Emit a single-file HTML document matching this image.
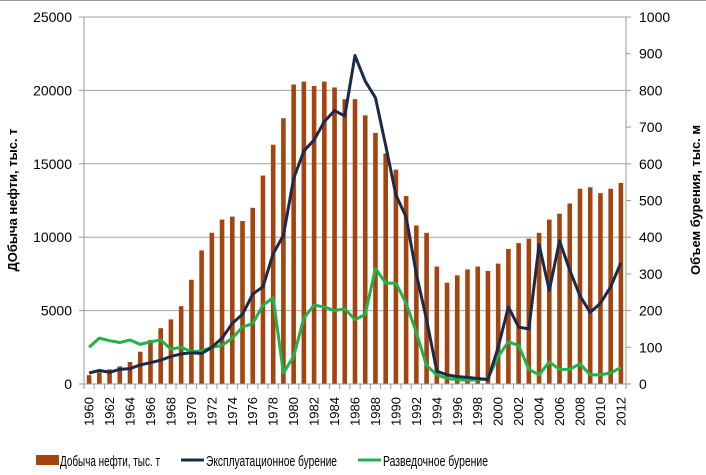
<!DOCTYPE html>
<html><head><meta charset="utf-8"><style>
html,body{margin:0;padding:0;background:#fff;}
svg{display:block;font-family:"Liberation Sans",sans-serif;}
</style></head><body>
<svg id="chart" width="706" height="475" viewBox="0 0 706 475">
<line x1="0" y1="0.5" x2="706" y2="0.5" stroke="#999"/>
<g id="grid"></g><g id="bars"></g><g id="lines"></g><g id="axes"></g>
<text transform="translate(17,200) rotate(-90)" text-anchor="middle" font-size="13" font-weight="bold">ДОбыча нефти, тыс. т</text>
<text transform="translate(700,200) rotate(-90)" text-anchor="middle" font-size="13" font-weight="bold">Объем  бурения, тыс. м</text>
<g>
<g><rect x="36" y="455" width="23" height="10" fill="#a4440e"/><text x="60" y="466" font-size="15" textLength="100" lengthAdjust="spacingAndGlyphs">Добыча нефти, тыс. т</text></g>
<g><line x1="181" y1="460" x2="204" y2="460" stroke="#1b2a4a" stroke-width="3"/><text x="206" y="466" font-size="15" textLength="131" lengthAdjust="spacingAndGlyphs">Эксплуатационное бурение</text></g>
<g><line x1="358" y1="460" x2="381" y2="460" stroke="#22b24c" stroke-width="3"/><text x="383" y="466" font-size="15" textLength="105" lengthAdjust="spacingAndGlyphs">Разведочное бурение</text></g>
</g>
</svg>
<script>
const years=[1960,1961,1962,1963,1964,1965,1966,1967,1968,1969,1970,1971,1972,1973,1974,1975,1976,1977,1978,1979,1980,1981,1982,1983,1984,1985,1986,1987,1988,1989,1990,1991,1992,1993,1994,1995,1996,1997,1998,1999,2000,2001,2002,2003,2004,2005,2006,2007,2008,2009,2010,2011,2012];
const production=[600,800,1000,1200,1500,2200,3000,3800,4400,5300,7100,9100,10300,11200,11400,11100,12000,14200,16300,18100,20400,20600,20300,20600,20200,19400,19400,18300,17100,15700,14600,12800,10800,10300,8000,6900,7400,7800,8000,7700,8200,9200,9600,9900,10300,11200,11600,12300,13300,13400,13000,13300,13700];
const exploitation=[30,37,32,40,42,52,58,65,75,82,85,83,100,125,165,190,245,265,355,405,560,635,665,715,745,730,895,825,780,650,515,455,300,175,35,25,20,18,15,12,100,210,155,150,380,255,390,310,240,195,220,265,330];
const exploration=[100,125,118,113,120,108,115,120,95,100,88,90,100,105,125,155,165,215,235,30,75,180,215,210,200,205,175,190,315,275,275,220,140,50,25,15,12,10,12,15,75,115,105,40,25,60,40,40,55,25,25,30,45];
const leftTicks=[0,5000,10000,15000,20000,25000];
const rightTicks=[0,100,200,300,400,500,600,700,800,900,1000];
const X0=84,X1=626,Y0=384,Y1=17;
const bw=(X1-X0)/years.length;
const xc=i=>X0+bw*(i+0.5);
const yL=v=>Y0-(v/25000)*(Y0-Y1);
const yR=v=>Y0-(v/1000)*(Y0-Y1);
const NS='http://www.w3.org/2000/svg';
function mk(tag,attrs,parent){const e=document.createElementNS(NS,tag);for(const k in attrs)e.setAttribute(k,attrs[k]);document.getElementById(parent).appendChild(e);return e;}
leftTicks.forEach(t=>{
  if(t>0){const g=mk('line',{x1:X0,x2:X1,y1:yL(t),y2:yL(t),stroke:'#a6a6a6','stroke-width':1},'grid');
  
  }
  const tk=mk('line',{x1:X0-5,x2:X0,y1:yL(t),y2:yL(t),stroke:'#999'},'axes');
  
  
  const tx=mk('text',{x:X0-12,y:yL(t)+5,'text-anchor':'end','font-size':14},'axes');
  tx.textContent=t;
  
  
});
rightTicks.forEach(t=>{
  const tk=mk('line',{x1:X1,x2:X1+5,y1:yR(t),y2:yR(t),stroke:'#999'},'axes');
  
  
  const tx=mk('text',{x:X1+13,y:yR(t)+5,'font-size':14},'axes');
  tx.textContent=t;
  
  
});
production.forEach((v,i)=>{
  const r=mk('rect',{x:xc(i)-2.3,width:4.6,y:yL(v),height:Y0-yL(v),fill:'#a4440e'},'bars');
  
  
});
function line(arr,color,name){
  const p=mk('polyline',{points:arr.map((v,i)=>xc(i)+','+yR(v)).join(' '),fill:'none',stroke:color,'stroke-width':3,'stroke-linejoin':'round'},'lines');
  
  
}
line(exploration,'#22b24c','exploration-line');
line(exploitation,'#1b2a4a','exploitation-line');
[['left-axis-line',X0],['right-axis-line',X1]].forEach(a=>{
  const l=mk('line',{x1:a[1],x2:a[1],y1:Y1,y2:Y0,stroke:'#999'},'axes');
  
  
});
const xa=mk('line',{x1:X0,x2:X1,y1:Y0,y2:Y0,stroke:'#999'},'axes');


for(let i=0;i<=years.length;i++){
  const tk=mk('line',{x1:X0+bw*i,x2:X0+bw*i,y1:Y0,y2:Y0+5,stroke:'#999'},'axes');
  
  
}
years.forEach((y,i)=>{
  if(y%2)return;
  const tx=mk('text',{transform:`translate(${xc(i)+4.5},397) rotate(-90)`,'text-anchor':'end','font-size':13},'axes');
  tx.textContent=y;
  
  
});
</script>
</body></html>
